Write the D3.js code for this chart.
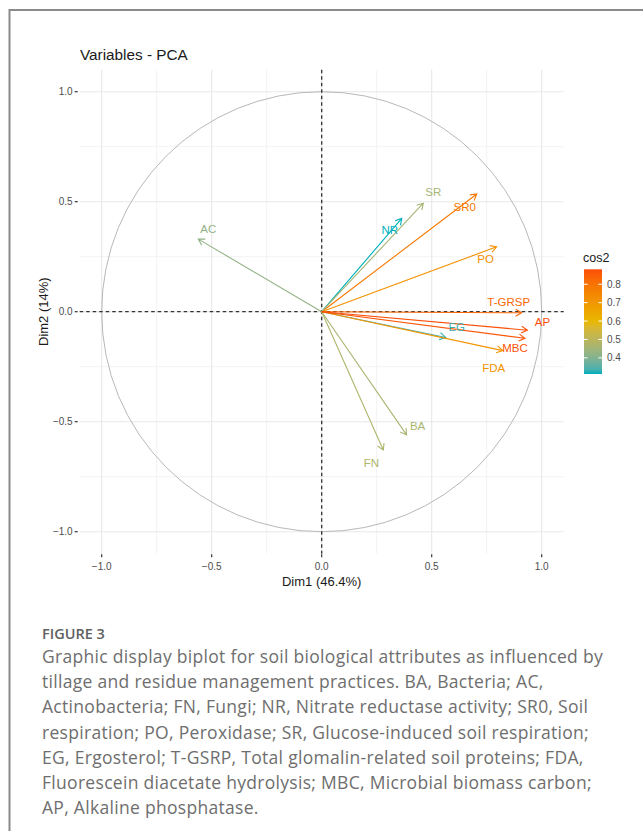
<!DOCTYPE html>
<html>
<head>
<meta charset="utf-8">
<script src="https://cdn.jsdelivr.net/npm/d3@7"></script>
<style>
  body { margin: 0; background: #fff; }
  svg { display: block; }
</style>
</head>
<body>
<div id="chart"></div>
<script>
// variable coordinates on the first two dimensions
const variables = ["BA", "AC", "FN", "NR", "SR0", "PO", "SR", "EG", "T-GRSP", "FDA", "MBC", "AP"];
const dim1 = [0.386, -0.561, 0.280, 0.364, 0.705, 0.795, 0.462, 0.564, 0.909, 0.823, 0.924, 0.935];
const dim2 = [-0.560, 0.330, -0.629, 0.424, 0.535, 0.295, 0.493, -0.117, -0.005, -0.177, -0.121, -0.084];

const axisTicks = [-1.0, -0.5, 0.0, 0.5, 1.0];
const minorTicks = [-0.75, -0.25, 0.25, 0.75];
const legendTicks = [0.4, 0.5, 0.6, 0.7, 0.8];
const gradientColors = ["#00AFBB", "#E7B800", "#FC4E07"];

const captionLines = [
  "Graphic display biplot for soil biological attributes as influenced by",
  "tillage and residue management practices. BA, Bacteria; AC,",
  "Actinobacteria; FN, Fungi; NR, Nitrate reductase activity; SR0, Soil",
  "respiration; PO, Peroxidase; SR, Glucose-induced soil respiration;",
  "EG, Ergosterol; T-GSRP, Total glomalin-related soil proteins; FDA,",
  "Fluorescein diacetate hydrolysis; MBC, Microbial biomass carbon;",
  "AP, Alkaline phosphatase."
];

// label nudges in px (layout only)
const labelNudge = {
  "BA": [11, -9], "AC": [10, -10], "FN": [-12, 13], "NR": [-12, 12],
  "SR0": [-12, 13], "PO": [-11, 12], "SR": [10, -11], "EG": [11, -10],
  "T-GRSP": [-13, -11], "FDA": [-9, 17], "MBC": [-10, 10], "AP": [15, -8]
};

const W = 643, H = 831;
const data = variables.map((v, i) => ({
  name: v, x: dim1[i], y: dim2[i], cos2: dim1[i] * dim1[i] + dim2[i] * dim2[i]
}));

const svg = d3.select("#chart").append("svg")
  .attr("width", W).attr("height", H);

// figure frame (left + top)
svg.append("path")
  .attr("d", `M9.5,${H} L9.5,10 L${W},10`)
  .attr("fill", "none").attr("stroke", "#8a8a8a").attr("stroke-width", 2);

const font = "'Liberation Sans', Arial, sans-serif";

// title
svg.append("text")
  .attr("x", 80).attr("y", 60)
  .attr("font-family", font).attr("font-size", 15.3)
  .attr("fill", "#1a1a1a")
  .text("Variables - PCA");

const x = d3.scaleLinear().domain([-1.1, 1.1]).range([79.7, 563.7]);
const y = d3.scaleLinear().domain([-1.1, 1.1]).range([553.7, 69.7]);

const panel = svg.append("g");

// grid
panel.selectAll(".vminor").data(minorTicks).enter().append("line")
  .attr("x1", d => x(d)).attr("x2", d => x(d))
  .attr("y1", y.range()[1]).attr("y2", y.range()[0])
  .attr("stroke", "#efefef").attr("stroke-width", 0.8);
panel.selectAll(".hminor").data(minorTicks).enter().append("line")
  .attr("y1", d => y(d)).attr("y2", d => y(d))
  .attr("x1", x.range()[0]).attr("x2", x.range()[1])
  .attr("stroke", "#efefef").attr("stroke-width", 0.8);
panel.selectAll(".vmajor").data(axisTicks).enter().append("line")
  .attr("x1", d => x(d)).attr("x2", d => x(d))
  .attr("y1", y.range()[1]).attr("y2", y.range()[0])
  .attr("stroke", "#e8e8e8").attr("stroke-width", 1.1);
panel.selectAll(".hmajor").data(axisTicks).enter().append("line")
  .attr("y1", d => y(d)).attr("y2", d => y(d))
  .attr("x1", x.range()[0]).attr("x2", x.range()[1])
  .attr("stroke", "#e8e8e8").attr("stroke-width", 1.1);

// correlation circle
panel.append("circle")
  .attr("cx", x(0)).attr("cy", y(0))
  .attr("r", x(1) - x(0))
  .attr("fill", "none").attr("stroke", "#b8b8b8").attr("stroke-width", 1);

// dashed zero lines
panel.append("line")
  .attr("x1", x.range()[0]).attr("x2", x.range()[1])
  .attr("y1", y(0)).attr("y2", y(0))
  .attr("stroke", "#333").attr("stroke-width", 1.3).attr("stroke-dasharray", "3.5,3");
panel.append("line")
  .attr("x1", x(0)).attr("x2", x(0))
  .attr("y1", y.range()[1]).attr("y2", y.range()[0])
  .attr("stroke", "#333").attr("stroke-width", 1.3).attr("stroke-dasharray", "3.5,3");

// color scale on cos2
const cExt = d3.extent(data, d => d.cos2);
const color = d3.scaleLinear()
  .domain([cExt[0], (cExt[0] + cExt[1]) / 2, cExt[1]])
  .range(gradientColors)
  .interpolate(d3.interpolateLab);

// arrows
const headLen = 7, headAng = Math.PI / 6;
function arrowPath(d) {
  const x0 = x(0), y0 = y(0), x1 = x(d.x), y1 = y(d.y);
  const a = Math.atan2(y1 - y0, x1 - x0);
  const ax = x1 - headLen * Math.cos(a - headAng), ay = y1 - headLen * Math.sin(a - headAng);
  const bx = x1 - headLen * Math.cos(a + headAng), by = y1 - headLen * Math.sin(a + headAng);
  return `M${x0},${y0}L${x1},${y1}M${ax},${ay}L${x1},${y1}L${bx},${by}`;
}
panel.selectAll(".arrow").data(data).enter().append("path")
  .attr("class", "arrow")
  .attr("d", arrowPath)
  .attr("fill", "none")
  .attr("stroke", d => color(d.cos2))
  .attr("stroke-width", 1.1);

panel.selectAll(".vlabel").data(data).enter().append("text")
  .attr("class", "vlabel")
  .attr("x", d => x(d.x) + labelNudge[d.name][0])
  .attr("y", d => y(d.y) + labelNudge[d.name][1])
  .attr("dy", "0.35em")
  .attr("text-anchor", "middle")
  .attr("font-family", font).attr("font-size", 11.5)
  .attr("fill", d => color(d.cos2))
  .text(d => d.name);

// axes
const tickColor = "#4d4d4d";
const yAxis = svg.append("g");
yAxis.selectAll("line").data(axisTicks).enter().append("line")
  .attr("x1", x.range()[0] - 5).attr("x2", x.range()[0] - 2)
  .attr("y1", d => y(d)).attr("y2", d => y(d))
  .attr("stroke", "#333").attr("stroke-width", 1.2);
yAxis.selectAll("text").data(axisTicks).enter().append("text")
  .attr("x", x.range()[0] - 7).attr("y", d => y(d)).attr("dy", "0.35em")
  .attr("text-anchor", "end")
  .attr("font-family", font).attr("font-size", 10).attr("fill", tickColor)
  .text(d => d3.format(".1f")(d));

const xAxis = svg.append("g");
xAxis.selectAll("line").data(axisTicks).enter().append("line")
  .attr("x1", d => x(d)).attr("x2", d => x(d))
  .attr("y1", y.range()[0] + 0.5).attr("y2", y.range()[0] + 3.5)
  .attr("stroke", "#333").attr("stroke-width", 1.2);
xAxis.selectAll("text").data(axisTicks).enter().append("text")
  .attr("x", d => x(d)).attr("y", y.range()[0] + 12.5).attr("dy", "0.35em")
  .attr("text-anchor", "middle")
  .attr("font-family", font).attr("font-size", 10).attr("fill", tickColor)
  .text(d => d3.format(".1f")(d));

svg.append("text")
  .attr("x", x(0)).attr("y", 586)
  .attr("text-anchor", "middle")
  .attr("font-family", font).attr("font-size", 13).attr("fill", "#1a1a1a")
  .text("Dim1 (46.4%)");

svg.append("text")
  .attr("transform", `translate(48, ${y(0)}) rotate(-90)`)
  .attr("text-anchor", "middle")
  .attr("font-family", font).attr("font-size", 13).attr("fill", "#1a1a1a")
  .text("Dim2 (14%)");

// legend colorbar
const lg = svg.append("g");
const barX = 584, barW = 18, barTop = 269.3, barBottom = 374;
const ly = d3.scaleLinear().domain(cExt).range([barBottom, barTop]);

lg.append("text")
  .attr("x", 583).attr("y", 262)
  .attr("font-family", font).attr("font-size", 12.5).attr("fill", "#1a1a1a")
  .text("cos2");

const grad = svg.append("defs").append("linearGradient")
  .attr("id", "cosGrad").attr("x1", 0).attr("x2", 0).attr("y1", 1).attr("y2", 0);
d3.range(0, 1.0001, 0.05).forEach(t => {
  grad.append("stop")
    .attr("offset", t)
    .attr("stop-color", color(cExt[0] + t * (cExt[1] - cExt[0])));
});
lg.append("rect")
  .attr("x", barX).attr("y", barTop)
  .attr("width", barW).attr("height", barBottom - barTop)
  .attr("fill", "url(#cosGrad)");

lg.selectAll(".lt").data(legendTicks).enter().append("path")
  .attr("d", d => `M${barX},${ly(d)}h3.6M${barX + barW - 3.6},${ly(d)}h3.6`)
  .attr("stroke", "#fff").attr("stroke-width", 1);
lg.selectAll(".ll").data(legendTicks).enter().append("text")
  .attr("x", barX + barW + 5).attr("y", d => ly(d)).attr("dy", "0.35em")
  .attr("font-family", font).attr("font-size", 10).attr("fill", tickColor)
  .text(d => d3.format(".1f")(d));

// caption
const capFont = "'Open Sans', 'Noto Sans', sans-serif";
svg.append("text")
  .attr("x", 42).attr("y", 639)
  .attr("font-family", capFont).attr("font-size", 14.5).attr("font-weight", 600)
  .attr("fill", "#606060")
  .text("FIGURE 3");
svg.selectAll(".cap").data(captionLines).enter().append("text")
  .attr("x", 42).attr("y", (d, i) => 663 + i * 25.2)
  .attr("font-family", capFont).attr("font-size", 17.5)
  .attr("letter-spacing", 0.3)
  .attr("fill", "#6e6e6e")
  .text(d => d);
</script>
</body>
</html>
